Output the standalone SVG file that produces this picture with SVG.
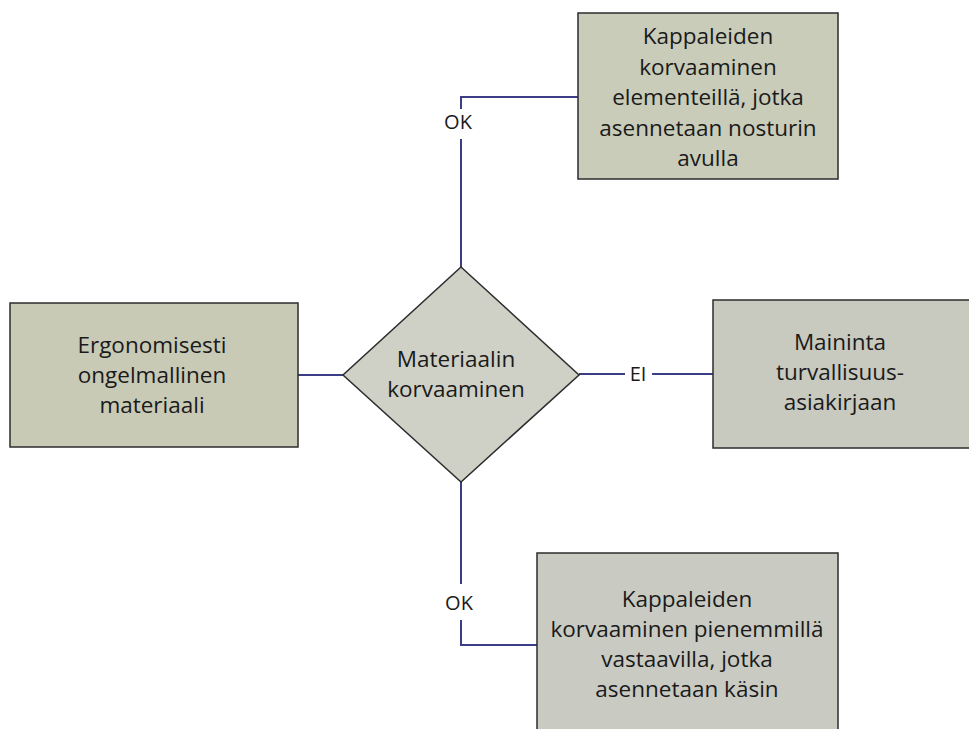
<svg xmlns="http://www.w3.org/2000/svg" width="969" height="729" viewBox="0 0 969 729">
<style>
.box{stroke:#2c2c2c;stroke-width:1.5}
.dia{fill:#cfd0c6;stroke:#2c2c2c;stroke-width:1.5}
.t{font-family:"Open Sans","Noto Sans",sans-serif;font-size:22.5px;fill:#1a1a1a;text-anchor:middle}
.l{font-family:"Open Sans","Noto Sans",sans-serif;font-size:20px;fill:#1a1a1a;text-anchor:middle}
.c{fill:none;stroke:#3b3d85;stroke-width:2}
</style>
<rect width="969" height="729" fill="#ffffff"/>
<g id="connectors">
<polyline class="c" points="461,267 461,139"/>
<polyline class="c" points="461,109 461,97 578,97"/>
<line class="c" x1="298" y1="375" x2="343" y2="375"/>
<line class="c" x1="579" y1="374" x2="625" y2="374"/>
<line class="c" x1="652" y1="374" x2="713" y2="374"/>
<polyline class="c" points="461,482 461,584"/>
<polyline class="c" points="461,620 461,645 537,645"/>
<text class="l" x="458" y="129">OK</text>
<text class="l" x="638" y="381">EI</text>
<text class="l" x="459" y="610">OK</text>
</g>
<g id="top-box">
<rect class="box" x="578" y="13" width="260" height="166" fill="#c9ccb9"/>
<text class="t" x="708" y="44">Kappaleiden</text>
<text class="t" x="708" y="74.5">korvaaminen</text>
<text class="t" x="708" y="105">elementeillä, jotka</text>
<text class="t" x="708" y="135.5">asennetaan nosturin</text>
<text class="t" x="708" y="166">avulla</text>
</g>
<g id="left-box">
<rect class="box" x="10" y="303" width="288" height="144" fill="#c8cab6"/>
<text class="t" x="152" y="353">Ergonomisesti</text>
<text class="t" x="152" y="383">ongelmallinen</text>
<text class="t" x="152" y="413">materiaali</text>
</g>
<g id="diamond">
<polygon class="dia" points="461,267 579,375 461,482 343,375"/>
<text class="t" x="456" y="367">Materiaalin</text>
<text class="t" x="456" y="397">korvaaminen</text>
</g>
<g id="right-box">
<rect class="box" x="713" y="300" width="262" height="148" fill="#c8c9bf"/>
<text class="t" x="840" y="350">Maininta</text>
<text class="t" x="840" y="380">turvallisuus-</text>
<text class="t" x="840" y="410">asiakirjaan</text>
</g>
<g id="bottom-box">
<rect class="box" x="537" y="553" width="301" height="190" fill="#c9cac2"/>
<text class="t" x="687" y="607">Kappaleiden</text>
<text class="t" x="687" y="637">korvaaminen pienemmillä</text>
<text class="t" x="687" y="667">vastaavilla, jotka</text>
<text class="t" x="687" y="697">asennetaan käsin</text>
</g>
</svg>
